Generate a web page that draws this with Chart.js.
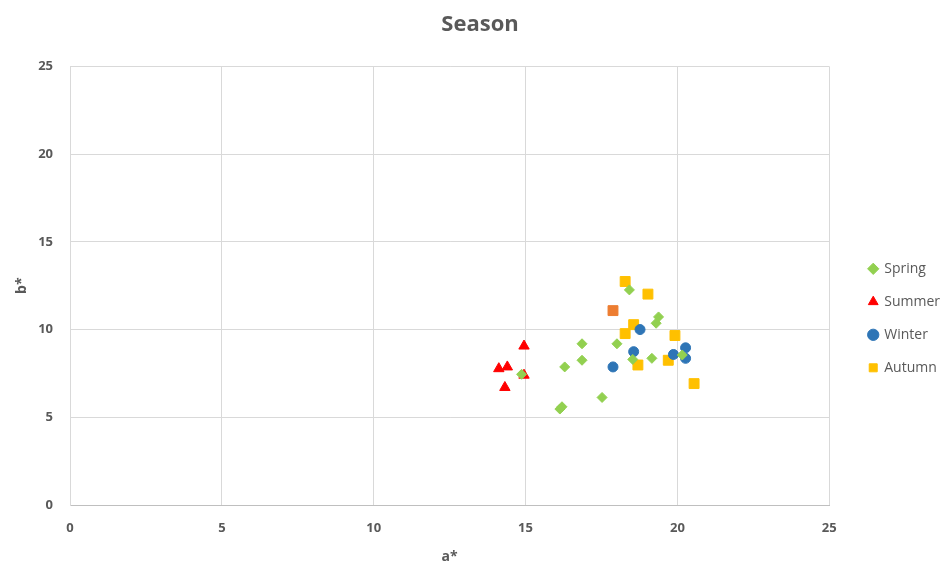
<!DOCTYPE html>
<html>
<head>
<meta charset="utf-8">
<script src="https://cdn.jsdelivr.net/npm/chart.js@4.4.1/dist/chart.umd.min.js"></script>
<style>
  html, body { margin: 0; padding: 0; background: #fff; }
  #wrap { width: 946px; height: 565px; }
</style>
</head>
<body>
<div id="wrap"><canvas id="seasonChart"></canvas></div>
<script>
  // a* / b* readings per season
  const springA = [18.42, 19.38, 19.30, 16.86, 18.01, 16.86, 16.29, 14.87, 17.52, 16.13, 16.20, 18.53, 19.16, 20.16];
  const springB = [12.26, 10.72, 10.36, 9.19, 9.19, 8.25, 7.87, 7.45, 6.13, 5.47, 5.60, 8.30, 8.36, 8.55];

  const summerA = [14.95, 14.12, 14.40, 14.95, 14.32];
  const summerB = [9.06, 7.77, 7.87, 7.40, 6.70];

  const winterA = [18.77, 18.56, 17.88, 19.87, 20.27, 20.27];
  const winterB = [10.00, 8.74, 7.87, 8.58, 8.96, 8.36];

  const autumnA = [18.28, 19.03, 18.56, 18.28, 19.92, 18.70, 19.70, 20.55, 17.88];
  const autumnB = [12.74, 12.02, 10.28, 9.77, 9.66, 7.98, 8.25, 6.92, 11.08];
  const autumnColors = ['#FFC000', '#FFC000', '#FFC000', '#FFC000', '#FFC000', '#FFC000', '#FFC000', '#FFC000', '#ED7D31'];

  const axisTicks = [0, 5, 10, 15, 20, 25];

  const toPoints = (xs, ys) => xs.map((x, i) => ({ x, y: ys[i] }));

  const font = "'Open Sans', sans-serif";
  const grey = '#595959';

  // eslint-disable-next-line no-new
  new Chart(document.getElementById('seasonChart'), {
    type: 'scatter',
    data: {
      datasets: [{
        label: 'Spring',
        data: toPoints(springA, springB),
        pointStyle: 'rectRot',
        pointRadius: 5,
        backgroundColor: '#92D050',
        borderColor: '#92D050'
      }, {
        label: 'Summer',
        data: toPoints(summerA, summerB),
        pointStyle: 'triangle',
        pointRadius: 6,
        backgroundColor: '#FF0000',
        borderColor: '#FF0000'
      }, {
        label: 'Winter',
        data: toPoints(winterA, winterB),
        pointStyle: 'circle',
        pointRadius: 5,
        backgroundColor: '#2E75B6',
        borderColor: '#2E75B6'
      }, {
        label: 'Autumn',
        data: toPoints(autumnA, autumnB),
        pointStyle: 'rect',
        pointRadius: 7,
        backgroundColor: '#FFC000',
        borderColor: '#FFC000',
        pointBackgroundColor: autumnColors,
        pointBorderColor: autumnColors
      }]
    },
    options: {
      responsive: true,
      maintainAspectRatio: false,
      animation: false,
      layout: {
        padding: { left: 10, right: -4, top: 0, bottom: 0 }
      },
      scales: {
        x: {
          type: 'linear',
          min: 0,
          max: 25,
          afterBuildTicks: (scale) => { scale.ticks = axisTicks.map((v) => ({ value: v })); },
          afterFit: (scale) => { scale.height = 60; },
          grid: { color: '#D9D9D9', drawTicks: false },
          border: { color: '#BFBFBF' },
          ticks: { padding: 15, color: grey, font: { family: font, size: 13, weight: 'bold' } },
          title: {
            display: true,
            text: 'a*',
            color: grey,
            padding: { top: 6, bottom: 0 },
            font: { family: font, size: 14, weight: 'bold' }
          }
        },
        y: {
          type: 'linear',
          min: 0,
          max: 25,
          afterBuildTicks: (scale) => { scale.ticks = axisTicks.map((v) => ({ value: v })); },
          afterFit: (scale) => { scale.width = 60; },
          grid: { color: '#D9D9D9', drawTicks: false },
          border: { color: '#D9D9D9' },
          ticks: { padding: 17, color: grey, font: { family: font, size: 13, weight: 'bold' } },
          title: {
            display: true,
            text: 'b*',
            color: grey,
            padding: { bottom: 0 },
            font: { family: font, size: 14, weight: 'bold' }
          }
        },
        // empty spacer between plot and legend
        gap: {
          type: 'linear',
          position: 'right',
          afterFit: (scale) => { scale.width = 21; },
          grid: { display: false },
          border: { display: false },
          ticks: { display: false }
        }
      },
      plugins: {
        title: {
          display: true,
          text: 'Season',
          color: grey,
          padding: { top: 12, bottom: 28 },
          font: { family: font, size: 22, weight: 'bold' }
        },
        legend: {
          position: 'right',
          align: 'start',
          fullSize: false,
          title: {
            display: true,
            text: ' ',
            padding: { top: 162 },
            font: { size: 12 }
          },
          labels: {
            usePointStyle: true,
            boxWidth: 8,
            boxHeight: 8,
            padding: 19,
            color: grey,
            font: { family: font, size: 14 }
          }
        },
        tooltip: { enabled: false }
      }
    }
  });
</script>
</body>
</html>
